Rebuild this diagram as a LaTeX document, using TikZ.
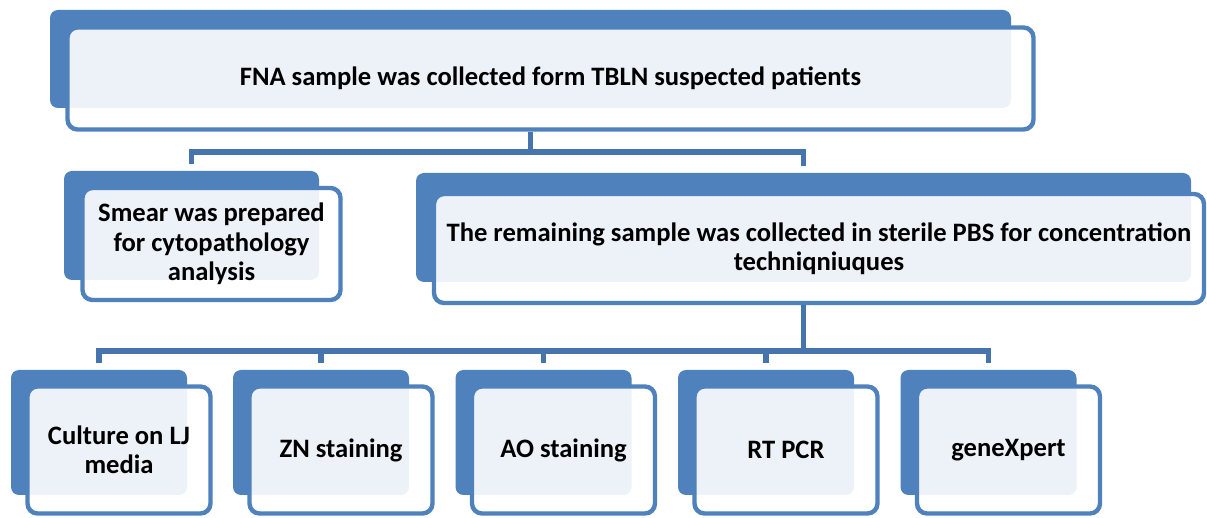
\documentclass[tikz,border=0pt]{standalone}
\usepackage{fontspec}
\setmainfont{Carlito}
\definecolor{boxblue}{HTML}{4F81BD}
\definecolor{linkblue}{HTML}{4674AD}
\tikzset{
  backbox/.style={fill=boxblue, rounded corners=4pt, inner sep=0pt},
  frontbox/.style={draw=boxblue, line width=2.2pt, fill=white, fill opacity=0.9, text opacity=1, rounded corners=5pt, align=center, inner sep=0pt, font=\bfseries\fontsize{13.3}{14.7}\selectfont},
  link/.style={draw=linkblue, line width=2.8pt, shorten >=3.3pt},
}
\begin{document}
\begin{tikzpicture}[x=0.5pt, y=-0.5pt]
\useasboundingbox (0,0) rectangle (1207,518);
% top box
\node (fna-b) at (530.5,59) [backbox, minimum width=480.5pt, minimum height=49pt] {};
\node (fna) at (550.5,78.5) [frontbox, minimum width=483pt, minimum height=51pt] {FNA sample was collected form TBLN suspected patients};
% second row
\node (smear-b) at (191.5,225.5) [backbox, minimum width=127.5pt, minimum height=54.5pt] {};
\node (smear) at (211.5,244) [frontbox, minimum width=129pt, minimum height=56pt] {Smear was prepared \\ for cytopathology \\ analysis};
\node (rest-b) at (803.5,227.5) [backbox, minimum width=387.5pt, minimum height=54.5pt] {};
\node (rest) at (819,248.5) [frontbox, minimum width=385pt, minimum height=54.5pt] {The remaining sample was collected in sterile PBS for concentration \\ techniqniuques};
% third row
\node (culture-b) at (99,432.5) [backbox, minimum width=88pt, minimum height=62.5pt] {};
\node (culture) at (119,450) [frontbox, minimum width=91.5pt, minimum height=63.5pt] {Culture on LJ \\ media};
\node (zn-b) at (321,432.5) [backbox, minimum width=88pt, minimum height=62.5pt] {};
\node (zn) at (341,450) [frontbox, minimum width=91.5pt, minimum height=63.5pt] {ZN staining};
\node (ao-b) at (543.5,432.5) [backbox, minimum width=88pt, minimum height=62.5pt] {};
\node (ao) at (563.5,450) [frontbox, minimum width=91.5pt, minimum height=63.5pt] {AO staining};
\node (rtpcr-b) at (766,432.5) [backbox, minimum width=88pt, minimum height=62.5pt] {};
\node (rtpcr) at (786,450) [frontbox, minimum width=91.5pt, minimum height=63.5pt] {RT PCR};
\node (genex-b) at (988.5,432.5) [backbox, minimum width=88pt, minimum height=62.5pt] {};
\node (genex) at (1008.5,450) [frontbox, minimum width=91.5pt, minimum height=63.5pt] {geneXpert};
% connectors
\coordinate (bus1) at (530.5,152);
\draw [link, shorten >=0pt] (fna-b.south |- fna.south) -- (bus1);
\draw [link] (bus1) -| (smear-b.north);
\draw [link] (bus1) -| (rest-b.north);
\coordinate (bus2) at (803.5,351);
\draw [link, shorten >=0pt] (rest-b.south |- rest.south) -- (bus2);
\draw [link] (bus2) -| (culture-b.north);
\draw [link] (bus2) -| (zn-b.north);
\draw [link] (bus2) -| (ao-b.north);
\draw [link] (bus2) -| (rtpcr-b.north);
\draw [link] (bus2) -| (genex-b.north);
\end{tikzpicture}
\end{document}
